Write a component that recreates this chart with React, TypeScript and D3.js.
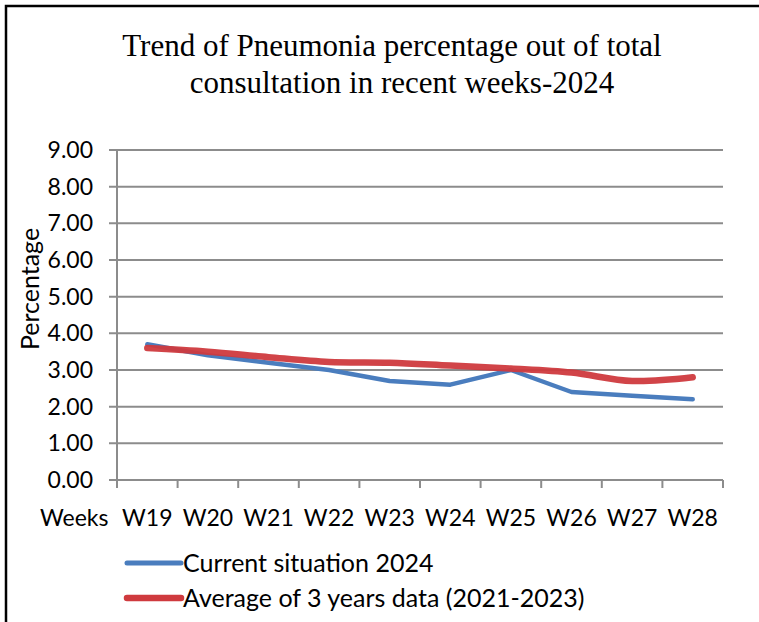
import React, { useRef, useEffect } from "react";
import * as d3 from "d3";

const weeks = ["W19", "W20", "W21", "W22", "W23", "W24", "W25", "W26", "W27", "W28"];
const current2024 = [3.7, 3.4, 3.2, 3.0, 2.7, 2.6, 3.0, 2.4, 2.3, 2.2];
const avg3Years = [3.6, 3.5, 3.35, 3.22, 3.2, 3.12, 3.04, 2.93, 2.7, 2.8];
const yTicks = [0, 1, 2, 3, 4, 5, 6, 7, 8, 9];
const seriesNames = ["Current situation 2024", "Average of 3 years data (2021-2023)"];

const WIDTH = 759;
const HEIGHT = 622;
const BLUE = "#4A7DBE";
const RED = "#CF3A3E";
const GRID = "#8C8C8C";
const SANS = "Lato, 'Open Sans', sans-serif";

const App = () => {
  const ref = useRef<SVGSVGElement | null>(null);

  useEffect(() => {
    if (!ref.current) return;
    const svg = d3.select(ref.current);
    svg.selectAll("*").remove();

    const margin = { top: 150, left: 117, right: 36, bottom: 142 };
    const x = d3
      .scaleBand<string>()
      .domain(weeks)
      .range([margin.left, WIDTH - margin.right]);
    const y = d3
      .scaleLinear()
      .domain([0, 9])
      .range([HEIGHT - margin.bottom, margin.top]);

    // outer frame (only top and left edges show)
    svg
      .append("path")
      .attr("d", `M6,${HEIGHT} L6,6 L${WIDTH},6`)
      .attr("fill", "none")
      .attr("stroke", "#000")
      .attr("stroke-width", 2.5);

    // title
    const title = svg
      .append("text")
      .attr("text-anchor", "middle")
      .style("font-family", "'Liberation Serif', 'Times New Roman', serif")
      .style("font-size", "31px")
      .attr("fill", "#000");
    title.append("tspan").attr("x", 392).attr("y", 56).text("Trend of Pneumonia percentage out of total");
    title.append("tspan").attr("x", 402).attr("y", 93).text("consultation in recent weeks-2024");

    // gridlines + y ticks
    const x0 = margin.left;
    const x1 = WIDTH - margin.right;
    svg
      .append("g")
      .selectAll("line")
      .data(yTicks)
      .enter()
      .append("line")
      .attr("x1", x0 - 8)
      .attr("x2", x1)
      .attr("y1", (d) => y(d))
      .attr("y2", (d) => y(d))
      .attr("stroke", GRID)
      .attr("stroke-width", 2);

    svg
      .append("g")
      .selectAll("text")
      .data(yTicks)
      .enter()
      .append("text")
      .attr("x", 93)
      .attr("y", (d) => y(d))
      .attr("dy", "0.35em")
      .attr("text-anchor", "end")
      .style("font-family", SANS)
      .style("font-size", "23px")
      .attr("fill", "#000")
      .text((d) => d3.format(".2f")(d));

    // y axis line
    svg
      .append("line")
      .attr("x1", x0)
      .attr("x2", x0)
      .attr("y1", y(9))
      .attr("y2", y(0) + 8)
      .attr("stroke", GRID)
      .attr("stroke-width", 2);

    // x tick marks at band edges
    const edges = weeks.map((w) => x(w) as number).concat([x1]);
    svg
      .append("g")
      .selectAll("line")
      .data(edges)
      .enter()
      .append("line")
      .attr("x1", (d) => d)
      .attr("x2", (d) => d)
      .attr("y1", y(0))
      .attr("y2", y(0) + 8)
      .attr("stroke", GRID)
      .attr("stroke-width", 2);

    // x labels
    svg
      .append("g")
      .selectAll("text")
      .data(weeks)
      .enter()
      .append("text")
      .attr("x", (d) => (x(d) as number) + x.bandwidth() / 2)
      .attr("y", 526)
      .attr("text-anchor", "middle")
      .style("font-family", SANS)
      .style("font-size", "23px")
      .attr("fill", "#000")
      .text((d) => d);

    svg
      .append("text")
      .attr("x", 40)
      .attr("y", 526)
      .style("font-family", SANS)
      .style("font-size", "23px")
      .attr("fill", "#000")
      .text("Weeks");

    // y axis title
    svg
      .append("text")
      .attr("transform", "translate(39,289) rotate(-90)")
      .attr("text-anchor", "middle")
      .style("font-family", SANS)
      .style("font-size", "25px")
      .attr("fill", "#000")
      .text("Percentage");

    const cx = (i: number) => (x(weeks[i]) as number) + x.bandwidth() / 2;

    const blueLine = d3
      .line<number>()
      .x((_, i) => cx(i))
      .y((d) => y(d));
    const redLine = d3
      .line<number>()
      .x((_, i) => cx(i))
      .y((d) => y(d))
      .curve(d3.curveCatmullRom.alpha(0.5));

    svg
      .append("path")
      .datum(current2024)
      .attr("fill", "none")
      .attr("stroke", BLUE)
      .attr("stroke-width", 4.5)
      .attr("stroke-linejoin", "round")
      .attr("stroke-linecap", "round")
      .attr("d", blueLine);

    svg
      .append("path")
      .datum(avg3Years)
      .attr("fill", "none")
      .attr("stroke", RED)
      .attr("stroke-width", 6.5)
      .attr("stroke-opacity", 0.95)
      .attr("stroke-linejoin", "round")
      .attr("stroke-linecap", "round")
      .attr("d", redLine);

    // legend
    const legend = svg.append("g");
    const colors = [BLUE, RED];
    const widths = [5, 6.5];
    seriesNames.forEach((name, i) => {
      const ly = 563 + i * 35;
      legend
        .append("line")
        .attr("x1", 127)
        .attr("x2", 181)
        .attr("y1", ly)
        .attr("y2", ly)
        .attr("stroke", colors[i])
        .attr("stroke-width", widths[i])
        .attr("stroke-linecap", "round");
      legend
        .append("text")
        .attr("x", 183)
        .attr("y", ly)
        .attr("dy", "0.35em")
        .style("font-family", SANS)
        .style("font-size", "25px")
        .attr("fill", "#000")
        .text(name);
    });
  }, []);

  return (
    <svg
      ref={ref}
      width={WIDTH}
      height={HEIGHT}
      style={{ position: "absolute", left: 0, top: 0, background: "#fff" }}
    />
  );
};

export default App;
